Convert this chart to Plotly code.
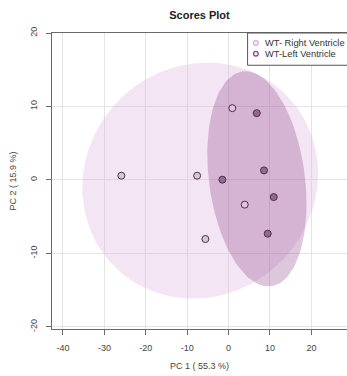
import numpy as np
import plotly.graph_objects as go

# ---- data ----
groups = ["WT- Right Ventricle", "WT-Left Ventricle"]
rv_x = [-25.9, -7.6, 3.9, -5.6, 0.9]
rv_y = [0.57, 0.57, -3.37, -8.05, 9.77]
lv_x = [6.8, -1.5, 8.55, 10.9, 9.45]
lv_y = [9.09, 0.03, 1.29, -2.34, -7.32]

x_ticks = [-40, -30, -20, -10, 0, 10, 20]
x_ticktext = ["-40", "-30", "-20", "-10", "0", "10", "20"]
y_ticks = [-20, -10, 0, 10, 20]
y_ticktext = ["-20", "-10", "0", "10", "20"]

title = "Scores Plot"
x_title = "PC 1 ( 55.3 %)"
y_title = "PC 2 ( 15.9 %)"

point_fill = ["#e6bde6", "#9c6494"]
ellipse_fill = ["rgba(222,180,222,0.35)", "rgba(118,30,115,0.25)"]
legend_ring = ["#dba8db", "#8a4a84"]


def conf_ellipse(x, y, conf_scale=2.4477, n=120):
    x = np.asarray(x, float)
    y = np.asarray(y, float)
    cov = np.cov(np.vstack([x, y]))
    vals, vecs = np.linalg.eigh(cov)
    t = np.linspace(0, 2 * np.pi, n)
    circ = np.vstack([np.cos(t), np.sin(t)])
    pts = vecs @ (np.sqrt(vals)[:, None] * circ) * conf_scale
    return pts[0] + x.mean(), pts[1] + y.mean()


fig = go.Figure()

for gx, gy, name, ef in [(rv_x, rv_y, groups[0], ellipse_fill[0]),
                         (lv_x, lv_y, groups[1], ellipse_fill[1])]:
    ex, ey = conf_ellipse(gx, gy)
    fig.add_trace(go.Scatter(x=ex, y=ey, mode="lines", fill="toself",
                             fillcolor=ef, line=dict(width=0),
                             hoverinfo="skip", showlegend=False, name=name))

for gx, gy, name, pf in [(rv_x, rv_y, groups[0], point_fill[0]),
                         (lv_x, lv_y, groups[1], point_fill[1])]:
    fig.add_trace(go.Scatter(x=gx, y=gy, mode="markers", name=name,
                             marker=dict(size=7, color=pf,
                                         line=dict(color="#3a3a3a", width=1)),
                             showlegend=False))

axis_common = dict(showgrid=True, gridcolor="#e4e4e4", gridwidth=1,
                   zeroline=False, showline=True, linecolor="#6a6a6a",
                   linewidth=1, ticks="outside", ticklen=5, tickcolor="#6a6a6a",
                   tickfont=dict(family="Liberation Sans", size=9, color="#444"))

fig.update_xaxes(range=[-42.65, 28.6], tickvals=x_ticks, ticktext=x_ticktext,
                 mirror=True, ticklabelstandoff=5,
                 title=dict(text=x_title, standoff=10,
                            font=dict(family="Liberation Sans", size=9, color="#444")),
                 **axis_common)
fig.update_yaxes(range=[-20.3, 20.0], tickvals=y_ticks, ticktext=y_ticktext,
                 tickangle=-90, ticklabelstandoff=5,
                 title=dict(text=y_title, standoff=11,
                            font=dict(family="Liberation Sans", size=9, color="#444")),
                 **axis_common)

# manual legend box (matches the R-style legend)
lx0 = 0.663
fig.add_shape(type="rect", xref="paper", yref="paper", x0=lx0, x1=1.05,
              y0=0.891, y1=1.0, line=dict(color="#555", width=1),
              fillcolor="white", layer="above")
for i, (name, col) in enumerate(zip(groups, legend_ring)):
    yc = 1.0 - (10 + 10.7 * i) / 296.3
    fig.add_shape(type="circle", xref="paper", yref="paper",
                  xsizemode="pixel", ysizemode="pixel",
                  xanchor=lx0 + 8.3 / 295.3, yanchor=yc,
                  x0=-2.3, x1=2.3, y0=-2.3, y1=2.3,
                  line=dict(color=col, width=1.3), layer="above")
    fig.add_annotation(xref="paper", yref="paper", x=lx0 + 15 / 295.3, y=yc,
                       xanchor="left", yanchor="middle", showarrow=False,
                       text=name, font=dict(family="Liberation Sans", size=9.3,
                                            color="#333"))

fig.update_layout(
    width=347, height=376,
    margin=dict(l=52, r=0, t=33, b=47, autoexpand=False),
    plot_bgcolor="white", paper_bgcolor="white",
    title=dict(text="<b>" + title + "</b>", x=(52 + 347) / 2 / 347, xanchor="center",
               y=1 - 15.5 / 376, yanchor="middle",
               font=dict(family="Liberation Sans", size=11, color="#222")),
    showlegend=False,
)

fig.write_html("out.html",
               config={"displayModeBar": False},
               post_script="document.body.style.margin='0px';"
                           "document.body.style.overflow='hidden';")
